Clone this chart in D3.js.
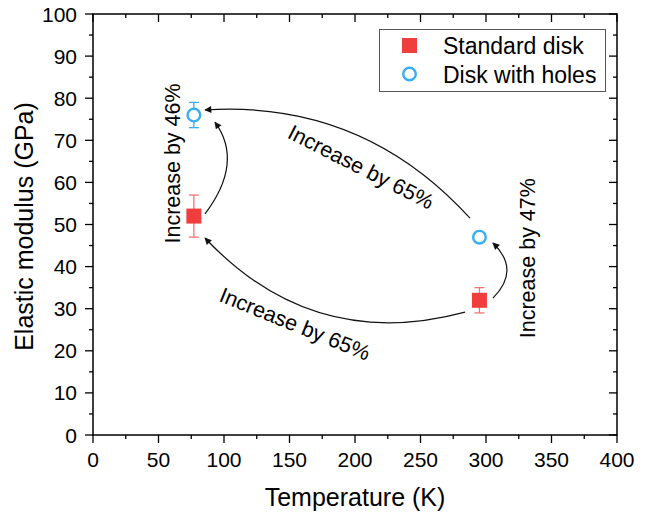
<!DOCTYPE html>
<html>
<head>
<meta charset="utf-8">
<script src="https://cdn.jsdelivr.net/npm/d3@7"></script>
<style>
  body { margin: 0; background: #fff; }
  svg text { font-family: "Liberation Sans", Arial, sans-serif; fill: #000; }
</style>
</head>
<body>
<svg width="659" height="516"></svg>
<script>
// data
var temps = [77, 295];
var standard = [52, 32];
var standardErr = [5, 3];
var holes = [76, 47];
var holesErr = [3, 1];
var xTicks = [0, 50, 100, 150, 200, 250, 300, 350, 400];
var yTicks = [0, 10, 20, 30, 40, 50, 60, 70, 80, 90, 100];
var seriesNames = ["Standard disk", "Disk with holes"];

// curved arrows: start, control, end (data units)
var arrows = [
  [[85.5, 52.5], [115.3, 64.8], [93.1, 74.3]],
  [[287.8, 51.5], [205.7, 79.6], [85.5, 77.2]],
  [[284, 29.2], [167.9, 19.5], [85.5, 46.8]],
  [[305.3, 32.5], [326.7, 39.2], [305.3, 45.6]]
];
var notes = [
  {text: "Increase by 46%", x: 61, y: 64.5, angle: -90},
  {text: "Increase by 65%", x: 204.6, y: 63.7, angle: 27},
  {text: "Increase by 65%", x: 154.2, y: 26.4, angle: 22},
  {text: "Increase by 47%", x: 332, y: 42, angle: -90}
];

var red = "#f03d3d", redErr = "#f37474", blue = "#3aaef2";

var svg = d3.select("svg");
var x = d3.scaleLinear().domain([0, 400]).range([93, 617]);
var y = d3.scaleLinear().domain([0, 100]).range([435, 14]);

var xMinor = d3.range(25, 400, 50), yMinor = d3.range(5, 100, 10);

// frame + ticks
var g = svg.append("g");
function tickLines(vals, len, orient) {
  g.append("g").selectAll("line").data(vals).enter().append("line")
    .attr("stroke", "#000").attr("stroke-width", 1.3)
    .attr("x1", d => orient == "b" || orient == "t" ? x(d) : (orient == "l" ? x(0) : x(400)))
    .attr("x2", d => orient == "b" || orient == "t" ? x(d) : (orient == "l" ? x(0) - len : x(400) - len))
    .attr("y1", d => orient == "l" || orient == "r" ? y(d) : (orient == "b" ? y(0) : y(100)))
    .attr("y2", d => orient == "l" || orient == "r" ? y(d) : (orient == "b" ? y(0) + len : y(100) + len));
}
tickLines(xTicks, 8, "b"); tickLines(xMinor, 4, "b");
tickLines(xTicks, 8, "t"); tickLines(xMinor, 4, "t");
tickLines(yTicks, 8, "l"); tickLines(yMinor, 4, "l");
tickLines(yTicks, 8, "r"); tickLines(yMinor, 4, "r");

g.append("rect").attr("x", x(0)).attr("y", y(100))
  .attr("width", x(400) - x(0)).attr("height", y(0) - y(100))
  .attr("fill", "none").attr("stroke", "#000").attr("stroke-width", 1.5);

g.append("g").selectAll("text").data(xTicks).enter().append("text")
  .attr("x", d => x(d)).attr("y", 467).attr("text-anchor", "middle")
  .style("font-size", "21px").text(d => d);
g.append("g").selectAll("text").data(yTicks).enter().append("text")
  .attr("x", 77).attr("y", d => y(d)).attr("dy", "0.36em").attr("text-anchor", "end")
  .style("font-size", "21px").text(d => d);

svg.append("text").attr("x", (x(0) + x(400)) / 2).attr("y", 506)
  .attr("text-anchor", "middle").style("font-size", "25px").text("Temperature (K)");
svg.append("text").attr("transform", "translate(33," + ((y(0) + y(100)) / 2 + 2) + ") rotate(-90)")
  .attr("text-anchor", "middle").style("font-size", "25px").text("Elastic modulus (GPa)");

// arrows
svg.append("defs").append("marker").attr("id", "head")
  .attr("viewBox", "0 0 10 10").attr("refX", 9).attr("refY", 5)
  .attr("markerWidth", 10).attr("markerHeight", 7).attr("markerUnits", "userSpaceOnUse")
  .attr("orient", "auto")
  .append("path").attr("d", "M0,0L10,5L0,10z").attr("fill", "#111");

svg.append("g").selectAll("path").data(arrows).enter().append("path")
  .attr("d", a => {
    var p = d3.path();
    p.moveTo(x(a[0][0]), y(a[0][1]));
    p.quadraticCurveTo(x(a[1][0]), y(a[1][1]), x(a[2][0]), y(a[2][1]));
    return p.toString();
  })
  .attr("fill", "none").attr("stroke", "#111").attr("stroke-width", 1.2)
  .attr("marker-end", "url(#head)");

svg.append("g").selectAll("text").data(notes).enter().append("text")
  .attr("transform", d => "translate(" + x(d.x) + "," + y(d.y) + ") rotate(" + d.angle + ")")
  .attr("text-anchor", "middle").attr("dy", "0.35em")
  .style("font-size", "21.5px").text(d => d.text);

// error bars
function errBars(vals, errs, color) {
  var eg = svg.append("g").attr("stroke", color).attr("stroke-width", 1.3);
  temps.forEach((t, i) => {
    var cx = x(t), top = y(vals[i] + errs[i]), bot = y(vals[i] - errs[i]);
    eg.append("line").attr("x1", cx).attr("x2", cx).attr("y1", top).attr("y2", bot);
    eg.append("line").attr("x1", cx - 5).attr("x2", cx + 5).attr("y1", top).attr("y2", top);
    eg.append("line").attr("x1", cx - 5).attr("x2", cx + 5).attr("y1", bot).attr("y2", bot);
  });
}
errBars(standard, standardErr, redErr);
errBars(holes, holesErr, blue);

svg.append("g").selectAll("rect").data(temps).enter().append("rect")
  .attr("x", (d) => x(d) - 7.5).attr("y", (d, i) => y(standard[i]) - 7.5)
  .attr("width", 15).attr("height", 15).attr("fill", red);
svg.append("g").selectAll("circle").data(temps).enter().append("circle")
  .attr("cx", d => x(d)).attr("cy", (d, i) => y(holes[i])).attr("r", 6.3)
  .attr("fill", "#fff").attr("stroke", blue).attr("stroke-width", 2.4);

// legend
var lg = svg.append("g");
lg.append("rect").attr("x", 379.5).attr("y", 29.5).attr("width", 226).attr("height", 62)
  .attr("fill", "#fff").attr("stroke", "#555").attr("stroke-width", 1);
lg.append("rect").attr("x", 402).attr("y", 38).attr("width", 15).attr("height", 15).attr("fill", red);
lg.append("circle").attr("cx", 409.5).attr("cy", 74).attr("r", 6.3)
  .attr("fill", "#fff").attr("stroke", blue).attr("stroke-width", 2.4);
lg.selectAll("text.leg").data(seriesNames).enter().append("text")
  .attr("x", 443).attr("y", (d, i) => 45.5 + i * 29).attr("dy", "0.36em")
  .style("font-size", "23px").text(d => d);
</script>
</body>
</html>
